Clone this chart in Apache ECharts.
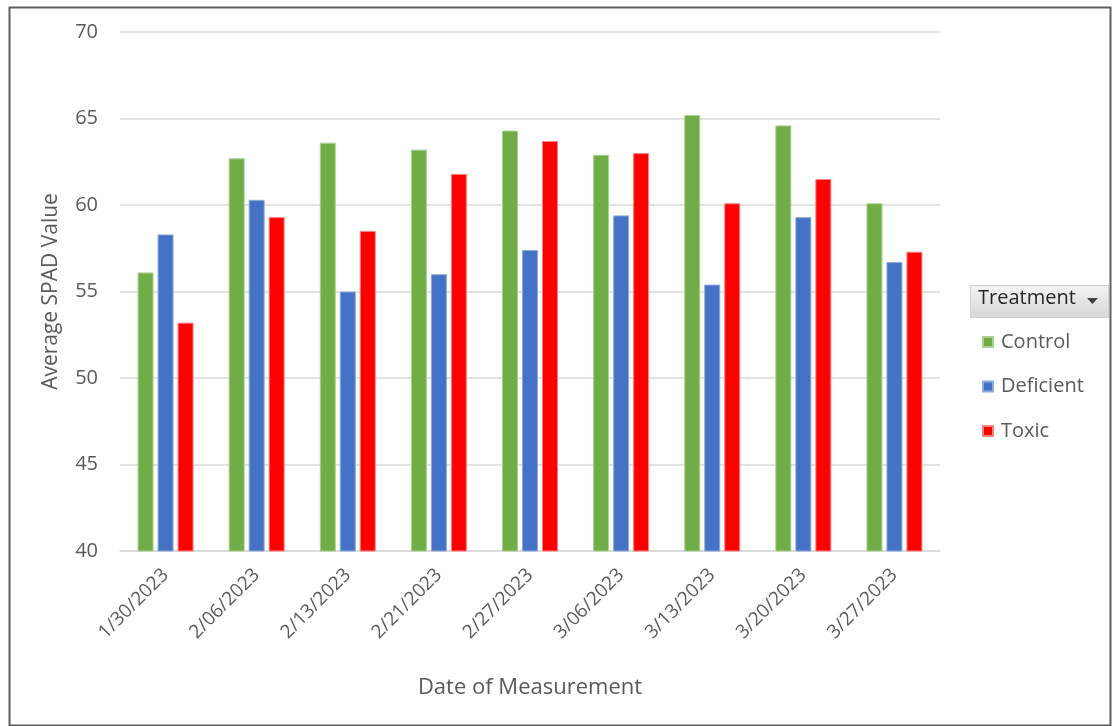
<!DOCTYPE html>
<html>
<head>
<meta charset="utf-8">
<script src="https://cdn.jsdelivr.net/npm/echarts@6/dist/echarts.min.js"></script>
<style>
  html, body { margin: 0; padding: 0; background: #fff; }
  #chart { width: 1112px; height: 726px; }
</style>
</head>
<body>
<div id="chart"></div>
<script>
// data
var dates = ['1/30/2023', '2/06/2023', '2/13/2023', '2/21/2023', '2/27/2023',
             '3/06/2023', '3/13/2023', '3/20/2023', '3/27/2023']
var control   = [56.1, 62.7, 63.6, 63.2, 64.3, 62.9, 65.2, 64.6, 60.1]
var deficient = [58.3, 60.3, 55.0, 56.0, 57.4, 59.4, 55.4, 59.3, 56.7]
var toxic     = [53.2, 59.3, 58.5, 61.8, 63.7, 63.0, 60.1, 61.5, 57.3]
var yTicks = [40, 45, 50, 55, 60, 65, 70]

var font = '"Open Sans", "Liberation Sans", sans-serif'
var txt = '#595959'

var chartDom = document.getElementById('chart')
var myChart = echarts.init(chartDom, null, { renderer: 'canvas' })

function bar(name, data, color, border) {
  return {
    name: name,
    type: 'bar',
    data: data,
    barWidth: 16,
    barGap: '25%',
    itemStyle: { color: color, borderColor: border, borderWidth: 1 }
  }
}

var option = {
  backgroundColor: '#fff',
  animation: false,
  textStyle: { fontFamily: font },
  grid: { left: 120, right: 172, top: 32, bottom: 175 },
  xAxis: {
    type: 'category',
    data: dates,
    name: 'Date of Measurement',
    nameLocation: 'middle',
    nameGap: 126,
    nameTextStyle: { color: txt, fontSize: 22, fontFamily: font },
    axisTick: { show: false },
    axisLine: { lineStyle: { color: '#d9d9d9', width: 1.5 } },
    axisLabel: { rotate: 45, color: txt, fontSize: 19, margin: 21, fontFamily: font }
  },
  yAxis: {
    type: 'value',
    min: yTicks[0],
    max: yTicks[yTicks.length - 1],
    interval: 5,
    name: 'Average SPAD Value',
    nameLocation: 'middle',
    nameGap: 58,
    nameTextStyle: { color: txt, fontSize: 21, fontFamily: font },
    axisLine: { show: false },
    axisTick: { show: false },
    axisLabel: { color: txt, fontSize: 20, margin: 22, fontFamily: font },
    splitLine: { lineStyle: { color: '#d9d9d9', width: 1.5 } }
  },
  legend: {
    orient: 'vertical',
    left: 977,
    top: 327,
    itemWidth: 10,
    itemHeight: 10,
    itemGap: 24.5,
    icon: 'rect',
    textStyle: { color: txt, fontSize: 20, fontFamily: font, padding: [0, 0, 0, 3] },
    data: ['Control', 'Deficient', 'Toxic']
  },
  graphic: [
    {
      type: 'rect',
      left: 7, top: 5,
      shape: { width: 1101, height: 718 },
      style: { fill: 'none', stroke: '#5f5f5f', lineWidth: 2 },
      silent: true
    },
    {
      type: 'rect',
      left: 970, top: 285,
      shape: { width: 138, height: 32 },
      style: {
        fill: new echarts.graphic.LinearGradient(0, 0, 0, 1, [
          { offset: 0, color: '#f4f4f4' },
          { offset: 1, color: '#d6d6d6' }
        ]),
        stroke: '#d0d0d0', lineWidth: 1
      }
    },
    {
      type: 'text',
      left: 978, top: 288,
      style: { text: 'Treatment', fill: '#262626', fontSize: 20, fontFamily: font }
    },
    {
      type: 'polygon',
      shape: { points: [[1087, 298], [1098, 298], [1092.5, 304]] },
      style: { fill: '#404040' }
    }
  ],
  series: [
    bar('Control', control, '#70ad47', '#a9d18e'),
    bar('Deficient', deficient, '#4472c4', '#8faadc'),
    bar('Toxic', toxic, '#ff0000', '#ff8080')
  ]
}

option && myChart.setOption(option)
</script>
</body>
</html>
